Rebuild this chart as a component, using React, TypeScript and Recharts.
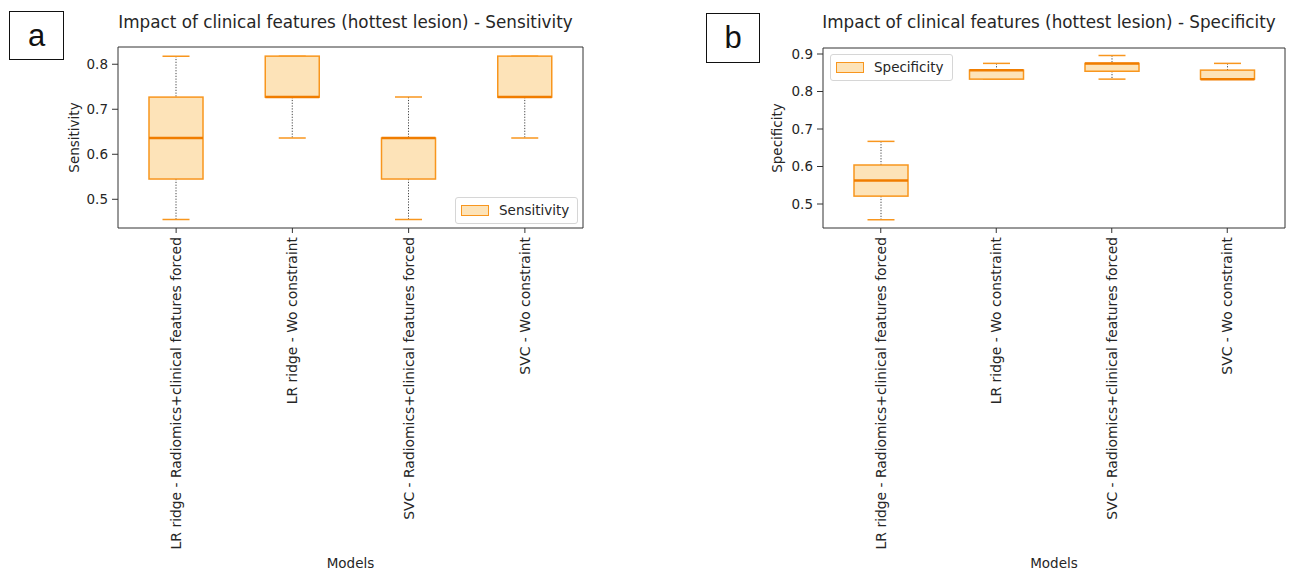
import React from 'react';
import { ComposedChart, Bar, XAxis, YAxis, CartesianGrid, Legend } from 'recharts';

const MODELS = [
  'LR ridge - Radiomics+clinical features forced',
  'LR ridge - Wo constraint',
  'SVC - Radiomics+clinical features forced',
  'SVC - Wo constraint',
];

// box plot summaries, one entry per model
const SENS_LOW = [0.455, 0.636, 0.455, 0.636];
const SENS_Q1 = [0.545, 0.727, 0.545, 0.727];
const SENS_MED = [0.636, 0.727, 0.636, 0.727];
const SENS_Q3 = [0.727, 0.818, 0.636, 0.818];
const SENS_HIGH = [0.818, 0.818, 0.727, 0.818];

const SPEC_LOW = [0.458, 0.833, 0.833, 0.833];
const SPEC_Q1 = [0.521, 0.833, 0.854, 0.833];
const SPEC_MED = [0.563, 0.857, 0.875, 0.833];
const SPEC_Q3 = [0.604, 0.857, 0.875, 0.857];
const SPEC_HIGH = [0.667, 0.875, 0.896, 0.875];

const SENS_TICKS = [0.5, 0.6, 0.7, 0.8];
const SPEC_TICKS = [0.5, 0.6, 0.7, 0.8, 0.9];
const SENS_DOMAIN = [0.4362, 0.8383];
const SPEC_DOMAIN = [0.436, 0.916];

const FONT = '"DejaVu Sans", sans-serif';
const INK = '#262626';
const FRAME = '#333333';
const FILL = '#fde3b8';
const EDGE = '#f8961e';
const MEDIAN = '#f07d00';
const WHISKER = '#444444';

const buildRows = (low: number[], q1: number[], med: number[], q3: number[], high: number[]) =>
  MODELS.map((name, i) => ({ name, low: low[i], q1: q1[i], med: med[i], q3: q3[i], high: high[i] }));

const sensRows = buildRows(SENS_LOW, SENS_Q1, SENS_MED, SENS_Q3, SENS_HIGH);
const specRows = buildRows(SPEC_LOW, SPEC_Q1, SPEC_MED, SPEC_Q3, SPEC_HIGH);

// the bar spans low..high, so every other level is placed inside that span
const BoxShape = (props: any) => {
  const { x, y, width, height, payload } = props;
  const { low, q1, med, q3, high } = payload;
  const top = Math.min(y, y + height);
  const h = Math.abs(height);
  const py = (v: number) => top + (h * (high - v)) / (high - low);
  const cx = x + width / 2;
  const cap = width / 4;
  return (
    <g>
      <line x1={cx} x2={cx} y1={py(high)} y2={py(q3)} stroke={WHISKER} strokeWidth={1} strokeDasharray="1.2 1.6" />
      <line x1={cx} x2={cx} y1={py(q1)} y2={py(low)} stroke={WHISKER} strokeWidth={1} strokeDasharray="1.2 1.6" />
      <line x1={cx - cap} x2={cx + cap} y1={py(high)} y2={py(high)} stroke={EDGE} strokeWidth={1.5} />
      <line x1={cx - cap} x2={cx + cap} y1={py(low)} y2={py(low)} stroke={EDGE} strokeWidth={1.5} />
      <rect x={x} y={py(q3)} width={width} height={Math.max(py(q1) - py(q3), 0.5)} fill={FILL} stroke={EDGE} strokeWidth={1.5} />
      <line x1={x} x2={x + width} y1={py(med)} y2={py(med)} stroke={MEDIAN} strokeWidth={2.5} />
    </g>
  );
};

const ModelTick = (props: any) => {
  const { x, y, payload } = props;
  return (
    <g transform={`translate(${x},${y})`}>
      <text transform="rotate(-90)" textAnchor="end" dy="0.36em" fontSize={13.9} fill={INK} fontFamily={FONT}>
        {payload.value}
      </text>
    </g>
  );
};

const yTitle = (text: string, dx: number) => (p: any) => {
  const vb = p.viewBox;
  const tx = vb.x + dx;
  const ty = vb.y + vb.height / 2;
  return (
    <text x={tx} y={ty} transform={`rotate(-90, ${tx}, ${ty})`} textAnchor="middle" dominantBaseline="central" fontSize={13.5} fill={INK} fontFamily={FONT}>
      {text}
    </text>
  );
};

const LegendBox = (props: any) => {
  const items = props.payload || [];
  return (
    <div style={{ display: 'inline-flex', flexDirection: 'column', background: 'rgba(255,255,255,0.85)', border: '1px solid #d6d6d6', borderRadius: 3, padding: '6px 8px 6px 5px' }}>
      {items.map((it: any) => (
        <div key={it.value} style={{ display: 'flex', alignItems: 'center', fontFamily: FONT, fontSize: 13.5, color: INK, lineHeight: '13px' }}>
          <span style={{ display: 'inline-block', width: 26, height: 9, background: FILL, border: `1.5px solid ${EDGE}`, marginRight: 10 }} />
          {it.value}
        </div>
      ))}
    </div>
  );
};

type PanelProps = {
  rows: any[];
  name: string;
  ticks: number[];
  domain: number[];
  width: number;
  marginTop: number;
  marginRight: number;
  legendPos: { left: number; top: number };
  titleDx: number;
};

const BoxPanel = ({ rows, name, ticks, domain, width, marginTop, marginRight, legendPos, titleDx }: PanelProps) => (
  <ComposedChart width={width} height={570} data={rows} margin={{ top: marginTop, right: marginRight, bottom: 0, left: 0 }}>
    <CartesianGrid
      stroke={FRAME}
      strokeWidth={1}
      horizontalCoordinatesGenerator={({ offset }: any) => [offset.top, offset.top + offset.height]}
      verticalCoordinatesGenerator={({ offset }: any) => [offset.left, offset.left + offset.width]}
    />
    <XAxis
      dataKey="name"
      height={342}
      interval={0}
      axisLine={false}
      tickSize={5}
      tickMargin={4}
      tickLine={{ stroke: FRAME }}
      tick={<ModelTick />}
      label={{ value: 'Models', position: 'insideBottom', offset: 2, fontSize: 13.5, fill: INK, fontFamily: FONT }}
    />
    <YAxis
      type="number"
      width={118}
      domain={domain}
      allowDataOverflow
      ticks={ticks}
      tickFormatter={(v: number) => v.toFixed(1)}
      axisLine={false}
      tickSize={6}
      tickMargin={4}
      tickLine={{ stroke: FRAME }}
      tick={{ fontSize: 13.5, fill: INK, fontFamily: FONT }}
      label={yTitle(name, titleDx)}
    />
    <Legend
      layout="horizontal"
      verticalAlign="middle"
      align="center"
      content={<LegendBox />}
      wrapperStyle={{ left: legendPos.left, top: legendPos.top, width: 'auto', height: 'auto' }}
    />
    <Bar dataKey={(d: any) => [d.low, d.high]} name={name} barSize={54} shape={<BoxShape />} isAnimationActive={false} />
  </ComposedChart>
);

const titleStyle: React.CSSProperties = {
  position: 'absolute',
  top: 12,
  fontFamily: FONT,
  fontSize: 16.8,
  lineHeight: '20px',
  color: INK,
  textAlign: 'center',
  whiteSpace: 'nowrap',
};

const tagStyle: React.CSSProperties = {
  position: 'absolute',
  boxSizing: 'border-box',
  border: '1.3px solid #111',
  fontFamily: '"Liberation Sans", Arial, sans-serif',
  fontSize: 31,
  color: '#111',
  display: 'flex',
  alignItems: 'center',
  justifyContent: 'center',
  background: '#fff',
};

export default function App() {
  return (
    <div style={{ position: 'absolute', left: 0, top: 0, width: 1290, height: 570, background: '#fff', overflow: 'hidden' }}>
      <div style={{ position: 'absolute', left: 0, top: 0 }}>
        <BoxPanel
          rows={sensRows}
          name="Sensitivity"
          ticks={SENS_TICKS}
          domain={SENS_DOMAIN}
          width={600}
          marginTop={47}
          marginRight={17}
          legendPos={{ left: 455, top: 197 }}
          titleDx={74}
        />
      </div>
      <div style={{ position: 'absolute', left: 705, top: 0 }}>
        <BoxPanel
          rows={specRows}
          name="Specificity"
          ticks={SPEC_TICKS}
          domain={SPEC_DOMAIN}
          width={585}
          marginTop={48}
          marginRight={5}
          legendPos={{ left: 125, top: 54 }}
          titleDx={72}
        />
      </div>
      <div style={{ ...titleStyle, left: 108, width: 475 }}>Impact of clinical features (hottest lesion) - Sensitivity</div>
      <div style={{ ...titleStyle, left: 813, width: 472 }}>Impact of clinical features (hottest lesion) - Specificity</div>
      <div style={{ ...tagStyle, left: 9, top: 11, width: 55, height: 49 }}>a</div>
      <div style={{ ...tagStyle, left: 706, top: 13, width: 54, height: 50 }}>b</div>
    </div>
  );
}
